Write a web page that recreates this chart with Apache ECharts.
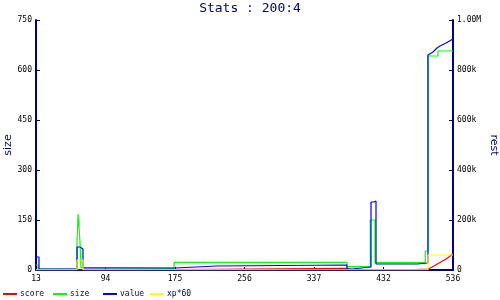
<!DOCTYPE html>
<html><head><meta charset="utf-8">
<script src="https://cdn.jsdelivr.net/npm/echarts@6/dist/echarts.min.js"></script>
<style>html,body{margin:0;padding:0;background:#fff}#c{width:500px;height:300px}</style>
</head><body><div id="c"></div>
<script>
// x positions are in tick-slot units (0..6); labels below
const xTickLabels = ['13','94','175','256','337','432','536'];
const leftTickLabels = ['0','150','300','450','600','750'];
const rightTickLabels = ['0','200k','400k','600k','800k','1.00M'];
const seriesNames = ['score','size','value','xp*60'];

// score (right axis)
const scoreX = [0,1.108,1.108,2.59,2.59,4.475,4.475,4.547,4.547,5.338,5.338,5.64,5.655,5.70,5.75,5.80,5.85,5.90,5.95,6.0];
const scoreY = [1000,1000,3000,3000,7000,7000,2000,2000,1000,1000,4000,4000,4000,12000,20000,28000,36000,44000,54000,66000];
// size (left axis)
const sizeX = [0,0.029,0.029,0.59,0.59,0.605,0.605,0.633,0.633,0.647,0.647,1.108,1.108,1.986,1.986,4.475,4.475,4.81,4.81,4.878,4.878,5.60,5.60,5.64,5.64,5.784,5.784,6.0];
const sizeY = [15,15,3,3,84,84,168,168,84,84,7,7,5,5,23,23,10,10,150,150,22,22,57,57,642,642,657,657];
// value (right axis)
const valueX = [0,0.043,0.043,0.59,0.59,0.633,0.633,0.676,0.676,2.0,2.0,2.604,2.604,4.475,4.475,4.547,4.547,4.82,4.82,4.863,4.863,4.892,4.892,5.482,5.482,5.64,5.64,5.712,5.77,5.813,5.899,6.0];
const valueY = [52000,52000,4000,4000,92000,92000,84000,84000,8000,8000,16000,16000,20000,20000,4000,4000,12000,12000,272000,272000,276000,276000,24000,24000,28000,28000,860000,872000,888000,896000,908000,924000];
// xp*60 (right axis)
const xpX = [0,0.59,0.59,0.676,0.676,5.64,5.64,6.0];
const xpY = [1000,1000,40000,40000,1000,1000,60000,60000];

const colors = ['#ff0000','#00ff00','#0000ff','#ffff00'];
const zip = (a,b) => a.map((v,i)=>[v,b[i]]);
const seriesData = [zip(scoreX,scoreY), zip(sizeX,sizeY), zip(valueX,valueY), zip(xpX,xpY)];
const yIdx = [1,0,1,1];
const navy = '#000080';
const mono = 'DejaVu Sans Mono';

const chart = echarts.init(document.getElementById('c'), null, {renderer:'canvas'});
const legendLefts = [3,53,103,150];
chart.setOption({
  animation:false,
  backgroundColor:'#fff',
  title:{text:'Stats : 200:4', left:'center', top:2, padding:0, textStyle:{fontFamily:mono, fontSize:13, fontWeight:'normal', color:navy}},
  legend: seriesNames.map((n,i)=>({
    data:[n], left:legendLefts[i], top:290, padding:0, icon:'rect', itemWidth:14, itemHeight:2, itemGap:3,
    textStyle:{fontFamily:mono, fontSize:8, color:navy, padding:[0,0,0,-2]}
  })),
  grid:{left:36, right:47, top:20, bottom:30, containLabel:false, outerBoundsMode:'none'},
  xAxis:{type:'value', min:0, max:6, interval:1,
    axisLine:{lineStyle:{color:navy, width:2}},
    axisTick:{inside:true, length:3, lineStyle:{color:'#000', width:1}},
    axisLabel:{fontFamily:mono, fontSize:8, color:'#000', margin:5, formatter:(v)=>xTickLabels[Math.round(v)]},
    splitLine:{show:false}},
  yAxis:[
    {type:'value', min:0, max:750, interval:150, position:'left', name:'size', nameLocation:'middle', nameGap:22, nameRotate:90, nameMoveOverlap:false,
      nameTextStyle:{fontFamily:'DejaVu Sans', fontSize:11, color:navy},
      axisLine:{show:true, lineStyle:{color:navy, width:2}},
      axisTick:{show:true, inside:true, length:4, lineStyle:{color:navy, width:1}},
      axisLabel:{fontFamily:mono, fontSize:8, color:'#000', margin:4, formatter:(v)=>leftTickLabels[Math.round(v/150)]},
      splitLine:{show:false}},
    {type:'value', min:0, max:1000000, interval:200000, position:'right', name:'rest', nameLocation:'middle', nameGap:35, nameRotate:-90, nameMoveOverlap:false,
      nameTextStyle:{fontFamily:'DejaVu Sans', fontSize:11, color:navy},
      axisLine:{show:true, lineStyle:{color:navy, width:2}},
      axisTick:{show:true, inside:true, length:4, lineStyle:{color:navy, width:1}},
      axisLabel:{fontFamily:mono, fontSize:8, color:'#000', margin:4, formatter:(v)=>rightTickLabels[Math.round(v/200000)]},
      splitLine:{show:false}}
  ],
  series: seriesNames.map((n,i)=>({
    name:n, type:'line', yAxisIndex:yIdx[i], data:seriesData[i], showSymbol:false, symbol:'none',
    color:colors[i], lineStyle:{color:colors[i], width:1.2}, z:2+i
  }))
});
</script></body></html>
